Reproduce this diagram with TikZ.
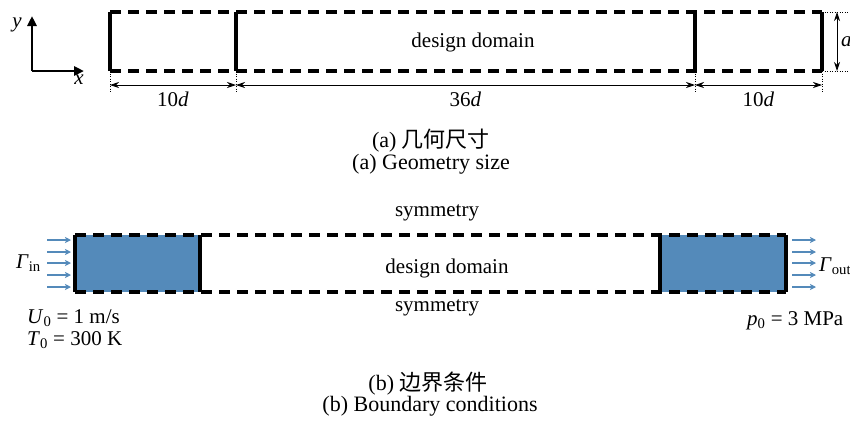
\documentclass[tikz,border=0pt]{standalone}
\usepackage{fontspec}
\setmainfont{Liberation Serif}
\newfontfamily\cjk{Noto Sans CJK SC}
\usetikzlibrary{arrows.meta}
\definecolor{fillblue}{RGB}{84,138,186}
\begin{document}
\begin{tikzpicture}[x=1pt,y=-1pt,
  wall/.style={line width=3.4pt},
  sym/.style={line width=3.4pt, dash pattern=on 11pt off 7pt},
  dimline/.style={line width=0.8pt, {Stealth[length=9pt,width=6pt]}-{Stealth[length=9pt,width=6pt]}},
  extline/.style={line width=0.6pt, dash pattern=on 1pt off 1.5pt},
  axis/.style={line width=2.6pt, -{Triangle[length=10pt,width=9pt]}},
  flow/.style={fillblue, line width=1.1pt, -{Stealth[length=6pt,width=6pt,inset=1.5pt]}},
  lbl/.style={font=\fontsize{21}{24}\selectfont, inner sep=0pt},
  captext/.style={font=\fontsize{22}{26}\selectfont, inner sep=0pt}]
\useasboundingbox (0,0) rectangle (850,424);

% ---------- (a) geometry ----------
\coordinate (a1) at (110,12); \coordinate (a2) at (236,12);
\coordinate (a3) at (695,12); \coordinate (a4) at (822,12);
\coordinate (b1) at (110,71); \coordinate (b2) at (236,71);
\coordinate (b3) at (695,71); \coordinate (b4) at (822,71);

\draw[sym] (a1) -- (a4);
\draw[sym] (b1) -- (b4);
\foreach \i in {1,2,3,4} \draw[wall] (a\i) -- (b\i);

% extension lines
\foreach \i in {1,2,3,4} \draw[extline] (b\i) -- ++(0,22);
\draw[extline] (a4) -- ++(27,0);
\draw[extline] (b4) -- ++(27,0);

% dimension lines
\coordinate (e1) at (110,85); \coordinate (e2) at (236,85);
\coordinate (e3) at (695,85); \coordinate (e4) at (822,85);
\draw[dimline] (e1) -- (e2) node[lbl, midway, below=7pt] (dl) {10\textit{d}};
\draw[dimline] (e2) -- (e3) node[lbl, midway, below=7pt] (dm) {36\textit{d}};
\draw[dimline] (e3) -- (e4) node[lbl, midway, below=7pt] (dr) {10\textit{d}};
\coordinate (h1) at (837,12); \coordinate (h2) at (837,71);
\draw[dimline] (h1) -- (h2);
\node[lbl, anchor=west] (ha) at (841,42) {\textit{a}};

% axes
\coordinate (o) at (32,71);
\coordinate (ytip) at (32,16);
\coordinate (xtip) at (84,71);
\draw[axis] (o) -- (ytip);
\draw[axis] (o) -- (xtip);
\node[lbl] (ylab) at (17,25) {\textit{y}};
\node[lbl] (xlab) at (79,80) {\textit{x}};

\node[lbl] (dd1) at (473,42) {design domain};

\node[captext] (capa1) at (431,141) {(a) {\cjk 几何尺寸}};
\node[captext] (capa2) at (431,164) {(a) Geometry size};

% ---------- (b) boundary conditions ----------
\coordinate (c1) at (75,235); \coordinate (c2) at (200,235);
\coordinate (c3) at (660,235); \coordinate (c4) at (786,235);
\coordinate (d1) at (75,292); \coordinate (d2) at (200,292);
\coordinate (d3) at (660,292); \coordinate (d4) at (786,292);

\fill[fillblue] (c1) rectangle (d2);
\fill[fillblue] (c3) rectangle (d4);
\draw[sym] (c1) -- (c4);
\draw[sym] (d1) -- (d4);
\foreach \i in {1,2,3,4} \draw[wall] (c\i) -- (d\i);

% inflow and outflow arrows
\foreach \y [count=\k] in {240,252,263,275,287} {
  \coordinate (in\k) at (47,\y);  \coordinate (inE\k) at (71,\y);
  \coordinate (out\k) at (792,\y); \coordinate (outE\k) at (816,\y);
  \draw[flow] (in\k) -- (inE\k);
  \draw[flow] (out\k) -- (outE\k);
}

\node[lbl, anchor=west] (gin) at (16,263) {\textit{Γ}\textsubscript{in}};
\node[lbl, anchor=west] (gout) at (819,266) {\textit{Γ}\textsubscript{out}};
\node[lbl, anchor=west] (u0) at (27,318) {\textit{U}\textsubscript{0} = 1 m/s};
\node[lbl, anchor=west] (t0) at (27,340) {\textit{T}\textsubscript{0} = 300 K};
\node[lbl, anchor=west] (p0) at (747,321) {\textit{p}\textsubscript{0} = 3 MPa};

\node[lbl] (symt) at (437,213) {symmetry};
\node[lbl] (symb) at (437,308) {symmetry};
\node[lbl] (dd2) at (447,268) {design domain};

\node[captext] (capb1) at (428,384) {(b) {\cjk 边界条件}};
\node[captext] (capb2) at (430,406) {(b) Boundary conditions};
\end{tikzpicture}
\end{document}
